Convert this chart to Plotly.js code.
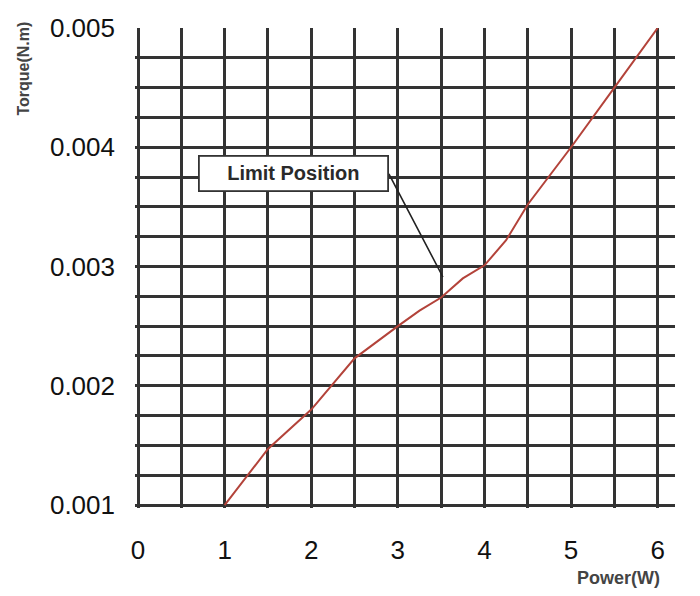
<!DOCTYPE html>
<html>
<head>
<meta charset="utf-8">
<script src="https://cdn.plot.ly/plotly-3.0.1.min.js"></script>
<style>html,body{margin:0;padding:0;background:#fff;}#chart{width:700px;height:596px;}</style>
</head>
<body>
<div id="chart"></div>
<script>
// Data
const power = [1, 1.5, 2, 2.5, 3, 3.25, 3.5, 3.75, 4, 4.25, 4.5, 5, 5.5, 6];
const torque = [0.001, 0.00147, 0.0018, 0.00223, 0.0025, 0.00263, 0.00274, 0.0029, 0.00301, 0.00322, 0.00352, 0.004, 0.0045, 0.005];
const yTickVals = [0.001, 0.002, 0.003, 0.004, 0.005];
const yTickText = ["0.001", "0.002", "0.003", "0.004", "0.005"];
const xTickVals = [0, 1, 2, 3, 4, 5, 6];
const xTickText = ["0", "1", "2", "3", "4", "5", "6"];
const yGridVals = [0.001, 0.00125, 0.0015, 0.00175, 0.002, 0.00225, 0.0025, 0.00275, 0.003, 0.00325, 0.0035, 0.00375, 0.004, 0.00425, 0.0045, 0.00475];
const xGridVals = [0, 0.5, 1, 1.5, 2, 2.5, 3, 3.5, 4, 4.5, 5, 5.5, 6];
const calloutText = "Limit Position";
const calloutBox = {x: 1.79, y: 0.00378};
const calloutArrowStart = {x: 2.885, y: 0.003793};
const calloutArrowEnd = {x: 3.52, y: 0.002912};

const gridColor = "#333333";
const fontFam = "Liberation Sans, Arial, sans-serif";
const xRange = [-0.035, 6.2];
const yRange = [0.000975, 0.005];

const traces = [
  {x: [0], y: [0.001], xaxis: "x2", yaxis: "y2", type: "scatter", mode: "markers", marker: {opacity: 0}, hoverinfo: "skip", showlegend: false},
  {x: power, y: torque, type: "scatter", mode: "lines", line: {color: "#b3433a", width: 2}, hoverinfo: "skip", showlegend: false}
];

const layout = {
  width: 700, height: 596,
  margin: {l: 135, r: 25, t: 28, b: 88},
  paper_bgcolor: "#fff", plot_bgcolor: "#fff",
  showlegend: false,
  xaxis: {
    range: xRange, tickvals: xTickVals, ticktext: xTickText,
    showgrid: false, zeroline: false, showline: false, ticks: "",
    ticklabelstandoff: 24,
    tickfont: {family: fontFam, size: 26, color: "#111"}
  },
  xaxis2: {
    range: xRange, overlaying: "x", tickvals: xGridVals, showticklabels: false,
    showgrid: true, gridcolor: gridColor, gridwidth: 3, zeroline: false, showline: false, ticks: ""
  },
  yaxis: {
    range: yRange, tickvals: yTickVals, ticktext: yTickText,
    showgrid: false, zeroline: false, showline: false, ticks: "",
    ticklabelstandoff: 19,
    tickfont: {family: fontFam, size: 26, color: "#111"}
  },
  yaxis2: {
    range: yRange, overlaying: "y", tickvals: yGridVals, showticklabels: false,
    showgrid: true, gridcolor: gridColor, gridwidth: 3, zeroline: false, showline: false, ticks: ""
  },
  annotations: [
    {x: calloutArrowEnd.x, y: calloutArrowEnd.y, xref: "x", yref: "y",
     ax: calloutArrowStart.x, ay: calloutArrowStart.y, axref: "x", ayref: "y",
     text: " ", showarrow: true, arrowhead: 0, arrowwidth: 1.6, arrowcolor: "#222",
     font: {size: 2}, borderpad: 0},
    {x: calloutBox.x, y: calloutBox.y, xref: "x", yref: "y", xanchor: "center", yanchor: "middle",
     text: "<b>" + calloutText + "</b>", showarrow: false,
     bgcolor: "#fff", bordercolor: "#333", borderwidth: 1.8, borderpad: 6, width: 175, height: 21, align: "center",
     font: {family: fontFam, size: 20, color: "#2a2a2a"}},
    {text: "<b>Torque(N.m)</b>", xref: "paper", yref: "paper", x: -0.206, y: 0.915, xanchor: "center", yanchor: "middle",
     textangle: -90, showarrow: false,
     font: {family: fontFam, size: 16, color: "#444"}},
    {text: "<b>Power(W)</b>", xref: "paper", yref: "paper", x: 0.895, y: -0.145, xanchor: "center", yanchor: "middle",
     showarrow: false,
     font: {family: fontFam, size: 18, color: "#444"}}
  ]
};

Plotly.newPlot("chart", traces, layout, {displayModeBar: false, staticPlot: true});
</script>
</body>
</html>
